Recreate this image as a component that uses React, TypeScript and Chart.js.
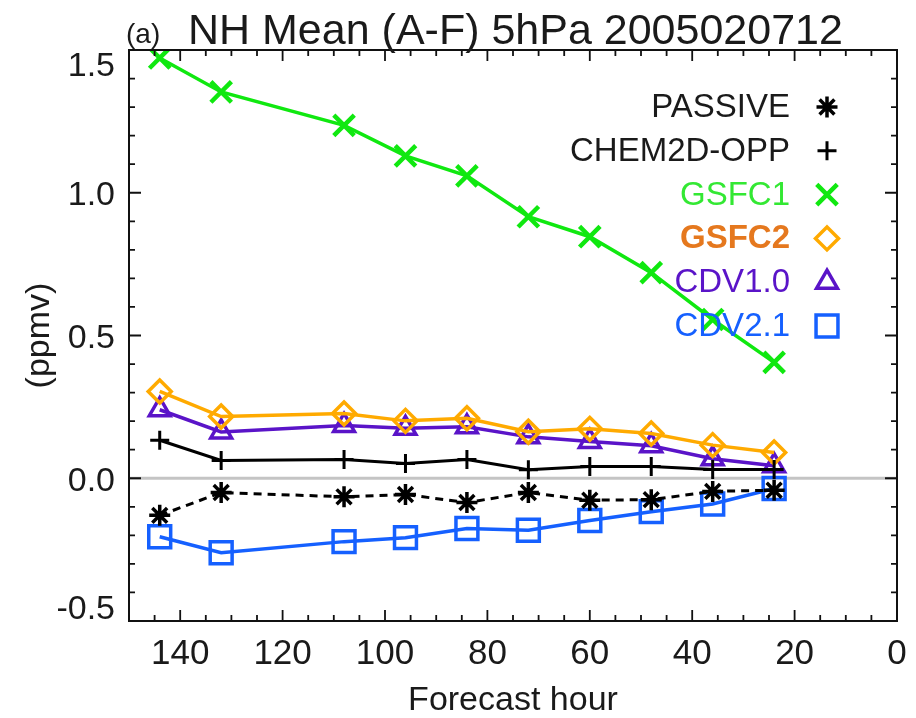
import React, { useEffect, useRef } from 'react';
import { Chart, registerables } from 'chart.js';
import { drawPoint } from 'chart.js/helpers';

Chart.register(...registerables);

// ---- data ----
const hours = [144, 132, 108, 96, 84, 72, 60, 48, 36, 24];
const passive = [-0.13, -0.05, -0.065, -0.057, -0.085, -0.05, -0.077, -0.075, -0.046, -0.042];
const chem2dOpp = [0.133, 0.062, 0.066, 0.052, 0.066, 0.030, 0.041, 0.041, 0.031, 0.031];
const gsfc1 = [1.472, 1.353, 1.236, 1.129, 1.059, 0.916, 0.846, 0.720, 0.556, 0.406];
const gsfc2 = [0.304, 0.216, 0.227, 0.201, 0.210, 0.163, 0.173, 0.157, 0.116, 0.090];
const cdv10 = [0.240, 0.162, 0.185, 0.175, 0.180, 0.145, 0.129, 0.114, 0.068, 0.044];
const cdv21 = [-0.205, -0.261, -0.222, -0.208, -0.176, -0.182, -0.148, -0.117, -0.090, -0.036];

const seriesLabels = ['PASSIVE', 'CHEM2D-OPP', 'GSFC1', 'GSFC2', 'CDV1.0', 'CDV2.1'];
const xTickValues = [140, 120, 100, 80, 60, 40, 20, 0];
const yTickValues = [-0.5, 0, 0.5, 1.0, 1.5];
const titleText = 'NH Mean (A-F) 5hPa 2005020712';
const panelText = '(a)';
const xTitle = 'Forecast hour';
const yTitle = '(ppmv)';

const FONT = '"Liberation Sans", Arial, Helvetica, sans-serif';
const TEXT = '#1a1a1a';

type Series = {
  label: string;
  values: number[];
  color: string;
  textColor: string;
  bold?: boolean;
  style: string;
  radius: number;
  dash?: number[];
  width: number;
  mwidth: number;
};

const series: Series[] = [
  { label: seriesLabels[0], values: passive, color: '#000000', textColor: TEXT, style: 'star', radius: 10.5, dash: [8, 6], width: 3, mwidth: 3.5 },
  { label: seriesLabels[1], values: chem2dOpp, color: '#000000', textColor: TEXT, style: 'cross', radius: 9.5, width: 3, mwidth: 3 },
  { label: seriesLabels[2], values: gsfc1, color: '#10e810', textColor: '#33e833', style: 'crossRot', radius: 14.5, width: 3.5, mwidth: 4.5 },
  { label: seriesLabels[3], values: gsfc2, color: '#ffaa00', textColor: '#e5781e', bold: true, style: 'rectRot', radius: 11.5, width: 3.5, mwidth: 3.5 },
  { label: seriesLabels[4], values: cdv10, color: '#5a14c8', textColor: '#5a14c8', style: 'triangle', radius: 12, width: 3.5, mwidth: 3.5 },
  { label: seriesLabels[5], values: cdv21, color: '#1560ff', textColor: '#1560ff', style: 'rect', radius: 15.5, width: 3.5, mwidth: 3.5 },
];

const framePlugin = {
  id: 'frame',
  beforeDatasetsDraw(chart: any) {
    const { ctx, chartArea: a, scales } = chart;
    const y0 = scales.y.getPixelForValue(0);
    ctx.save();
    ctx.strokeStyle = '#c4c4c4';
    ctx.lineWidth = 3;
    ctx.beginPath();
    ctx.moveTo(a.left, y0);
    ctx.lineTo(a.right, y0);
    ctx.stroke();
    ctx.restore();
  },
  afterDraw(chart: any) {
    const { ctx, chartArea: a, scales } = chart;
    ctx.save();
    ctx.strokeStyle = '#111';
    ctx.lineWidth = 2;
    ctx.strokeRect(a.left, a.top, a.right - a.left, a.bottom - a.top);
    ctx.lineWidth = 1.8;
    ctx.beginPath();
    // y ticks (inward, both sides)
    for (let i = -5; i <= 15; i++) {
      const v = i / 10;
      const py = scales.y.getPixelForValue(v);
      const len = i % 5 === 0 ? 12 : 6;
      ctx.moveTo(a.left, py); ctx.lineTo(a.left + len, py);
      ctx.moveTo(a.right, py); ctx.lineTo(a.right - len, py);
    }
    // x ticks (inward, top and bottom)
    for (let h = 0; h <= 150; h += 5) {
      const px = scales.x.getPixelForValue(h);
      const len = h % 20 === 0 ? 11 : 6;
      ctx.moveTo(px, a.bottom); ctx.lineTo(px, a.bottom - len);
      ctx.moveTo(px, a.top); ctx.lineTo(px, a.top + len);
    }
    ctx.stroke();

    // y tick labels (extreme labels pulled inside the frame, as in the original)
    ctx.fillStyle = TEXT;
    ctx.font = `34px ${FONT}`;
    ctx.textAlign = 'right';
    ctx.textBaseline = 'middle';
    const yMin = yTickValues[0];
    const yMax = yTickValues[yTickValues.length - 1];
    yTickValues.forEach((v) => {
      const py = scales.y.getPixelForValue(v);
      const off = v === yMax ? 17 : v === yMin ? -11 : 3;
      ctx.fillText(v.toFixed(1), a.left - 14, py + off);
    });

    // title
    ctx.fillStyle = TEXT;
    ctx.textBaseline = 'alphabetic';
    ctx.textAlign = 'left';
    ctx.font = `28px ${FONT}`;
    ctx.fillText(panelText, 126, 43);
    ctx.font = `43px ${FONT}`;
    ctx.fillText(titleText, 188, 44);

    // legend
    const rowY0 = 107;
    const step = 43.8;
    series.forEach((s, i) => {
      const y = rowY0 + i * step;
      ctx.font = `${s.bold ? 'bold ' : ''}33px ${FONT}`;
      ctx.fillStyle = s.textColor;
      ctx.textAlign = 'right';
      ctx.textBaseline = 'middle';
      ctx.fillText(s.label, 790, y + 1);
      ctx.strokeStyle = s.color;
      ctx.fillStyle = 'rgba(0,0,0,0)';
      ctx.lineWidth = s.mwidth;
      ctx.setLineDash([]);
      drawPoint(ctx, { pointStyle: s.style, radius: s.radius, rotation: 0, borderWidth: s.mwidth } as any, 827, y);
    });
    ctx.restore();
  },
};

export default function App() {
  const ref = useRef<HTMLCanvasElement>(null);
  useEffect(() => {
    if (!ref.current) return;
    const chart = new Chart(ref.current, {
      type: 'line',
      data: {
        datasets: series.map((s) => ({
          label: s.label,
          data: hours.map((h, i) => ({ x: h, y: s.values[i] })),
          borderColor: s.color,
          backgroundColor: 'rgba(0,0,0,0)',
          borderWidth: s.width,
          borderDash: s.dash || [],
          pointStyle: s.style as any,
          pointRadius: s.radius,
          pointBorderWidth: s.mwidth,
          pointBorderColor: s.color,
          pointBackgroundColor: 'rgba(0,0,0,0)',
          tension: 0,
          fill: false,
        })),
      },
      options: {
        responsive: false,
        animation: false,
        devicePixelRatio: 1,
        layout: { padding: { top: 50, right: 13, left: 0, bottom: 0 } },
        plugins: { legend: { display: false }, tooltip: { enabled: false }, title: { display: false } },
        scales: {
          x: {
            type: 'linear',
            min: 0,
            max: 150,
            reverse: true,
            grid: { display: false },
            border: { display: false },
            afterBuildTicks: (s: any) => { s.ticks = xTickValues.map((v) => ({ value: v })); },
            afterFit: (s: any) => { s.height = 97; },
            ticks: {
              color: TEXT,
              font: { family: FONT, size: 35 },
              padding: 4,
              maxRotation: 0,
              autoSkip: false,
              callback: (v: any) => String(v),
            },
            title: { display: true, text: xTitle, color: TEXT, font: { family: FONT, size: 34, lineHeight: 1 }, padding: { top: 0, bottom: 0 } },
          },
          y: {
            type: 'linear',
            min: -0.5,
            max: 1.5,
            grid: { display: false },
            border: { display: false },
            afterBuildTicks: (s: any) => { s.ticks = yTickValues.map((v) => ({ value: v })); },
            afterFit: (s: any) => { s.width = 129; },
            ticks: { display: false },
            title: { display: true, text: yTitle, color: TEXT, font: { family: FONT, size: 34, lineHeight: 1 }, padding: { top: 23, bottom: 0 } },
          },
        },
      },
      plugins: [framePlugin],
    });
    return () => chart.destroy();
  }, []);
  return (
    <div style={{ position: 'fixed', left: 0, top: 0, width: 916, height: 718, background: '#fff' }}>
      <canvas ref={ref} width={916} height={718} style={{ width: 916, height: 718, display: 'block' }} />
    </div>
  );
}
